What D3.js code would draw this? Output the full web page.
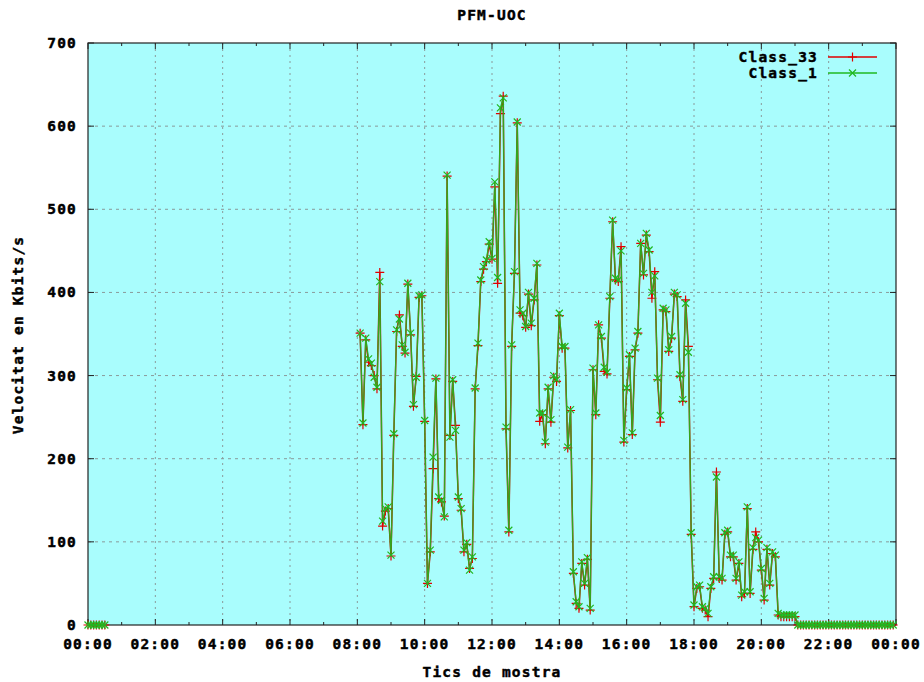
<!DOCTYPE html>
<html>
<head>
<meta charset="utf-8">
<script src="https://cdn.jsdelivr.net/npm/d3@7"></script>
<style>
  html, body { margin: 0; padding: 0; background: #ffffff; }
  svg text { font-family: "DejaVu Sans Mono", "Liberation Mono", monospace; font-weight: bold; font-size: 14.5px; letter-spacing: 1.2px; fill: #000; stroke: #000; stroke-width: 0.45px; }
</style>
</head>
<body>
<svg id="chart" width="924" height="682"></svg>
<script>
// ---------- data ----------
const title = "PFM-UOC";
const xLabel = "Tics de mostra";
const yLabel = "Velocitat en Kbits/s";
const seriesNames = ["Class_33", "Class_1"];
const yTicks = [0, 100, 200, 300, 400, 500, 600, 700];
const xTickLabels = ["00:00", "02:00", "04:00", "06:00", "08:00", "10:00", "12:00", "14:00", "16:00", "18:00", "20:00", "22:00", "00:00"];
const sampleStepMinutes = 5;

// segment 1: starts 00:00
const seg1Start = "00:00";
const seg1Class33 = [0, 0, 0, 0, 0, 0, 0];
const seg1Class1  = [0, 0, 0, 0, 0, 0, 0];

// segment 2: starts 08:05
const seg2Start = "08:05";
const seg2Class33 = [
  351, 241, 343, 316, 312, 300, 284, 424, 119, 137, 140,
  83, 228, 353, 373, 335, 327, 410, 349, 263, 299, 394, 396,
  245, 50, 88, 188, 296, 152, 148, 131, 540, 228, 293, 240,
  152, 138, 88, 97, 68, 80, 284, 336, 413, 428, 437, 458,
  440, 527, 411, 615, 636, 236, 112, 335, 423, 604, 375, 372,
  358, 398, 360, 391, 433, 245, 253, 218, 284, 244, 298, 293,
  372, 333, 333, 213, 258, 62, 26, 20, 74, 48, 79, 18,
  307, 253, 361, 345, 305, 302, 393, 485, 415, 413, 455, 220,
  283, 323, 229, 331, 351, 459, 421, 469, 449, 393, 425, 295,
  244, 379, 377, 329, 345, 398, 395, 299, 269, 391, 335, 109,
  22, 44, 46, 20, 18, 10, 44, 56, 184, 56, 54, 109,
  112, 82, 82, 54, 74, 34, 38, 140, 38, 91, 112, 100,
  66, 30, 91, 48, 86, 82, 12, 10, 10, 10, 10, 10,
  10,
  0, 0, 0, 0, 0, 0, 0, 0, 0, 0, 0,
  0, 0, 0, 0, 0, 0, 0, 0, 0, 0, 0, 0,
  0, 0, 0, 0, 0, 0, 0, 0, 0, 0, 0, 0
];
const seg2Class1 = [
  351, 243, 345, 320, 315, 298, 286, 413, 125, 140, 142,
  84, 230, 355, 368, 337, 328, 411, 351, 265, 298, 396, 397,
  246, 50, 90, 202, 297, 154, 150, 130, 541, 226, 295, 234,
  154, 140, 90, 99, 66, 82, 285, 339, 415, 431, 439, 461,
  441, 533, 418, 622, 634, 238, 114, 337, 425, 605, 379, 375,
  359, 400, 363, 393, 435, 255, 255, 220, 286, 247, 300, 295,
  375, 335, 335, 214, 259, 64, 28, 22, 76, 50, 81, 20,
  309, 255, 361, 347, 310, 304, 395, 487, 417, 415, 450, 222,
  285, 325, 231, 333, 353, 459, 423, 471, 451, 400, 420, 297,
  252, 381, 379, 331, 347, 400, 397, 301, 271, 387, 328, 111,
  24, 46, 48, 22, 20, 14, 46, 58, 178, 58, 56, 111,
  114, 84, 84, 56, 76, 36, 40, 142, 40, 93, 105, 102,
  68, 32, 93, 50, 88, 84, 14, 12, 12, 12, 12, 12,
  12,
  0, 0, 0, 0, 0, 0, 0, 0, 0, 0, 0,
  0, 0, 0, 0, 0, 0, 0, 0, 0, 0, 0, 0,
  0, 0, 0, 0, 0, 0, 0, 0, 0, 0, 0, 0
];

// ---------- helpers ----------
function toMin(s) { const [h, m] = s.split(":").map(Number); return h * 60 + m; }
function seg(start, vals) {
  const s = toMin(start);
  return vals.map((v, i) => ({ t: s + i * sampleStepMinutes, v }));
}
const series = [
  { name: seriesNames[0], color: "#e00000", marker: "plus",
    segments: [seg(seg1Start, seg1Class33), seg(seg2Start, seg2Class33)] },
  { name: seriesNames[1], color: "#20b820", marker: "cross",
    segments: [seg(seg1Start, seg1Class1), seg(seg2Start, seg2Class1)] }
];

// ---------- layout ----------
const L = 88, R = 896, T = 43, B = 625;
const svg = d3.select("#chart");
const x = d3.scaleLinear().domain([0, 1440]).range([L, R]);
const y = d3.scaleLinear().domain([0, 700]).range([B, T]);

svg.append("rect").attr("x", L).attr("y", T).attr("width", R - L).attr("height", B - T)
  .attr("fill", "#a9fdfd");

// grid
const majorX = d3.range(0, 1441, 120);
const minorX = d3.range(60, 1440, 120);
const g = svg.append("g");
g.selectAll(".gx").data(majorX.slice(1, -1)).join("line")
  .attr("x1", d => x(d)).attr("x2", d => x(d)).attr("y1", T).attr("y2", B)
  .attr("stroke", "#8a9a9a").attr("stroke-width", 1).attr("stroke-dasharray", "2,4");
g.selectAll(".gy").data(yTicks.slice(1, -1)).join("line")
  .attr("x1", L).attr("x2", R).attr("y1", d => y(d)).attr("y2", d => y(d))
  .attr("stroke", "#8a9a9a").attr("stroke-width", 1).attr("stroke-dasharray", "3,4");

// ticks (inward, mirrored)
const tk = svg.append("g").attr("stroke", "#222").attr("stroke-width", 1);
majorX.forEach(d => {
  tk.append("line").attr("x1", x(d)).attr("x2", x(d)).attr("y1", B).attr("y2", B - 6);
  tk.append("line").attr("x1", x(d)).attr("x2", x(d)).attr("y1", T).attr("y2", T + 6);
});
minorX.forEach(d => {
  tk.append("line").attr("x1", x(d)).attr("x2", x(d)).attr("y1", B).attr("y2", B - 3);
  tk.append("line").attr("x1", x(d)).attr("x2", x(d)).attr("y1", T).attr("y2", T + 3);
});
yTicks.forEach(d => {
  tk.append("line").attr("x1", L).attr("x2", L + 6).attr("y1", y(d)).attr("y2", y(d));
  tk.append("line").attr("x1", R).attr("x2", R - 6).attr("y1", y(d)).attr("y2", y(d));
});

// border
svg.append("rect").attr("x", L).attr("y", T).attr("width", R - L).attr("height", B - T)
  .attr("fill", "none").attr("stroke", "#222").attr("stroke-width", 1.2);

// tick labels
svg.selectAll(".yl").data(yTicks).join("text")
  .attr("x", 77).attr("y", d => y(d)).attr("text-anchor", "end")
  .attr("dominant-baseline", "central").text(d => d);
svg.selectAll(".xl").data(majorX).join("text")
  .attr("x", d => x(d)).attr("y", 649).attr("text-anchor", "middle")
  .text((d, i) => xTickLabels[i]);

// titles
svg.append("text").attr("x", 492).attr("y", 20).attr("text-anchor", "middle").text(title);
svg.append("text").attr("x", 492).attr("y", 677).attr("text-anchor", "middle").text(xLabel);
svg.append("text").attr("transform", "translate(23," + ((T + B) / 2 + 1) + ") rotate(-90)")
  .attr("text-anchor", "middle").text(yLabel);

// series
const line = d3.line().x(d => x(d.t)).y(d => y(d.v));
const plusPath = "M-4.5,0H4.5M0,-4.5V4.5";
const crossPath = "M-3.5,-3.5L3.5,3.5M-3.5,3.5L3.5,-3.5";
series.forEach((s, si) => {
  const sg = svg.append("g");
  s.segments.forEach(pts => {
    sg.append("path").datum(pts).attr("d", line).attr("fill", "none")
      .attr("stroke", s.color).attr("stroke-width", si === 1 ? 1.3 : 1.5)
      .attr("stroke-opacity", si === 1 ? 0.9 : 1);
    sg.selectAll(null).data(pts).join("path")
      .attr("transform", d => `translate(${x(d.t)},${y(d.v)})`)
      .attr("d", s.marker === "plus" ? plusPath : crossPath)
      .attr("stroke", s.color).attr("stroke-width", 1.2).attr("fill", "none");
  });
});

// legend
series.forEach((s, i) => {
  const ly = 57 + i * 16;
  svg.append("text").attr("x", 818).attr("y", ly).attr("text-anchor", "end")
    .attr("dominant-baseline", "central").text(s.name);
  svg.append("line").attr("x1", 828).attr("x2", 877).attr("y1", ly).attr("y2", ly)
    .attr("stroke", s.color).attr("stroke-width", 1.3);
  svg.append("path").attr("transform", `translate(852.5,${ly})`)
    .attr("d", s.marker === "plus" ? plusPath : crossPath)
    .attr("stroke", s.color).attr("stroke-width", 1.2).attr("fill", "none");
});
</script>
</body>
</html>
